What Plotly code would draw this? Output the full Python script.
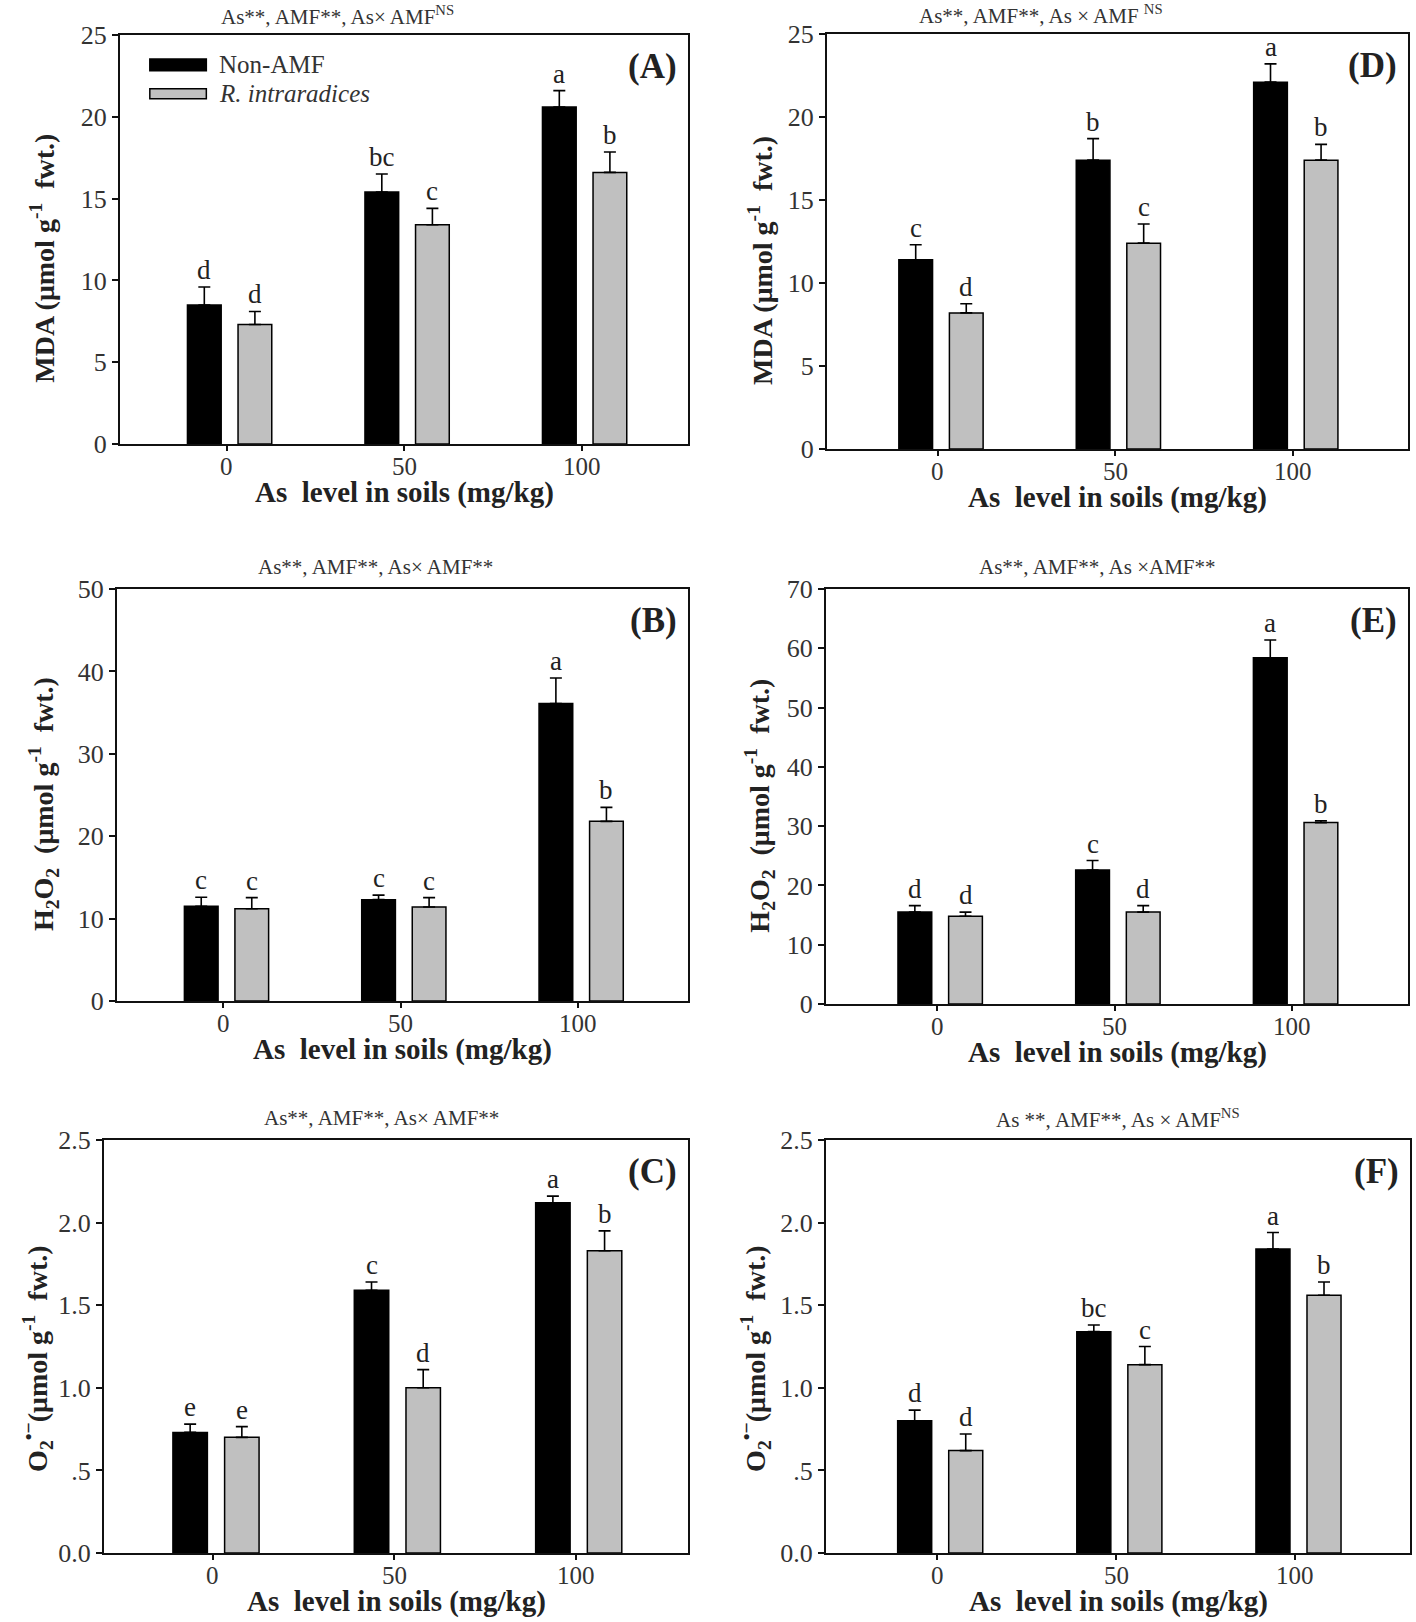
import plotly.graph_objects as go

# ---------------- data ----------------
levels = ["0", "50", "100"]
series_names = ["Non-AMF", "R. intraradices"]

# (A) MDA, experiment 1
mda_a_non = [8.5, 15.4, 20.6]
mda_a_non_err = [1.1, 1.1, 1.0]
mda_a_amf = [7.3, 13.4, 16.6]
mda_a_amf_err = [0.8, 1.0, 1.25]
let_a_non = ["d", "bc", "a"]
let_a_amf = ["d", "c", "b"]

# (D) MDA, experiment 2
mda_d_non = [11.4, 17.4, 22.1]
mda_d_non_err = [0.9, 1.3, 1.1]
mda_d_amf = [8.2, 12.4, 17.4]
mda_d_amf_err = [0.55, 1.15, 0.95]
let_d_non = ["c", "b", "a"]
let_d_amf = ["d", "c", "b"]

# (B) H2O2, experiment 1
h2o2_b_non = [11.5, 12.3, 36.1]
h2o2_b_non_err = [1.1, 0.55, 3.1]
h2o2_b_amf = [11.2, 11.4, 21.8]
h2o2_b_amf_err = [1.35, 1.15, 1.7]
let_b_non = ["c", "c", "a"]
let_b_amf = ["c", "c", "b"]

# (E) H2O2, experiment 2
h2o2_e_non = [15.5, 22.6, 58.4]
h2o2_e_non_err = [1.1, 1.6, 3.0]
h2o2_e_amf = [14.8, 15.5, 30.6]
h2o2_e_amf_err = [0.7, 1.1, 0.3]
let_e_non = ["d", "c", "a"]
let_e_amf = ["d", "d", "b"]

# (C) O2- , experiment 1
o2_c_non = [0.73, 1.59, 2.12]
o2_c_non_err = [0.05, 0.05, 0.04]
o2_c_amf = [0.70, 1.00, 1.83]
o2_c_amf_err = [0.065, 0.11, 0.12]
let_c_non = ["e", "c", "a"]
let_c_amf = ["e", "d", "b"]

# (F) O2- , experiment 2
o2_f_non = [0.80, 1.34, 1.84]
o2_f_non_err = [0.065, 0.04, 0.10]
o2_f_amf = [0.62, 1.14, 1.56]
o2_f_amf_err = [0.10, 0.11, 0.08]
let_f_non = ["d", "bc", "a"]
let_f_amf = ["d", "c", "b"]

titles = {
    "A": "As**, AMF**, As× AMF<sup>NS</sup>",
    "D": "As**, AMF**, As × AMF <sup>NS</sup>",
    "B": "As**, AMF**, As× AMF**",
    "E": "As**, AMF**, As ×AMF**",
    "C": "As**, AMF**, As× AMF**",
    "F": "As **, AMF**, As × AMF<sup>NS</sup>",
}
ytitle_mda = "<b>MDA (μmol g<sup>-1</sup>  fwt.)</b>"
ytitle_h2o2 = "<b>H<sub>2</sub>O<sub>2</sub>  (μmol g<sup>-1</sup>  fwt.)</b>"
ytitle_o2 = "<b>O<sub>2</sub><sup>•−</sup>(μmol g<sup>-1</sup>  fwt.)</b>"
xtitle = "<b>As  level in soils (mg/kg)</b>"

ticks_25 = [0, 5, 10, 15, 20, 25]
ticks_50 = [0, 10, 20, 30, 40, 50]
ticks_70 = [0, 10, 20, 30, 40, 50, 60, 70]
ticks_o2 = [0, 0.5, 1.0, 1.5, 2.0, 2.5]
ticks_o2_text = ["0.0", ".5", "1.0", "1.5", "2.0", "2.5"]

# ---------------- layout geometry (pixels) ----------------
W, H = 1416, 1622
SERIF = "Liberation Serif"

panels = [
    dict(k="A", l=120, r=688, t=35, b=444, ts=20, non=mda_a_non, ne=mda_a_non_err, amf=mda_a_amf, ae=mda_a_amf_err,
         ln=let_a_non, la=let_a_amf, yt=ticks_25, ytt=None, ytitle=ytitle_mda, tf=0.383, ydx=77, yf=0.453, xr=[-0.6, 2.6]),
    dict(k="D", l=827, r=1408, t=34, b=449, ts=20, non=mda_d_non, ne=mda_d_non_err, amf=mda_d_amf, ae=mda_d_amf_err,
         ln=let_d_non, la=let_d_amf, yt=ticks_25, ytt=None, ytitle=ytitle_mda, tf=0.368, ydx=67, yf=0.453, xr=[-0.625, 2.65]),
    dict(k="B", l=117, r=688, t=589, b=1001, ts=22, non=h2o2_b_non, ne=h2o2_b_non_err, amf=h2o2_b_amf, ae=h2o2_b_amf_err,
         ln=let_b_non, la=let_b_amf, yt=ticks_50, ytt=None, ytitle=ytitle_h2o2, tf=0.452, ydx=74, yf=0.478, xr=[-0.6, 2.62]),
    dict(k="E", l=826, r=1408, t=589, b=1004, ts=22, non=h2o2_e_non, ne=h2o2_e_non_err, amf=h2o2_e_amf, ae=h2o2_e_amf_err,
         ln=let_e_non, la=let_e_amf, yt=ticks_70, ytt=None, ytitle=ytitle_h2o2, tf=0.467, ydx=66, yf=0.478, xr=[-0.625, 2.65]),
    dict(k="C", l=104, r=688, t=1140, b=1553, ts=22, non=o2_c_non, ne=o2_c_non_err, amf=o2_c_amf, ae=o2_c_amf_err,
         ln=let_c_non, la=let_c_amf, yt=ticks_o2, ytt=ticks_o2_text, ytitle=ytitle_o2, tf=0.476, ydx=66, yf=0.47, xr=[-0.6, 2.62]),
    dict(k="F", l=826, r=1410, t=1140, b=1553, ts=22, non=o2_f_non, ne=o2_f_non_err, amf=o2_f_amf, ae=o2_f_amf_err,
         ln=let_f_non, la=let_f_amf, yt=ticks_o2, ytt=ticks_o2_text, ytitle=ytitle_o2, tf=0.5, ydx=70, yf=0.47, xr=[-0.62, 2.64]),
]

BAR_W = 0.19
OFF_NON = -0.22
OFF_AMF = 0.065
xpos = list(range(len(levels)))

fig = go.Figure()
annotations = []
shapes = []
layout_axes = {}

for i, p in enumerate(panels):
    n = "" if i == 0 else str(i + 1)
    xa, ya = "x" + n, "y" + n
    xd, yd = xa + " domain", ya + " domain"
    for vals, errs, off, color, name in [
        (p["non"], p["ne"], OFF_NON, "#000000", series_names[0]),
        (p["amf"], p["ae"], OFF_AMF, "#c0c0c0", series_names[1]),
    ]:
        fig.add_trace(go.Bar(
            x=xpos, y=vals, width=BAR_W, offset=off, name=name,
            marker=dict(color=color, line=dict(color="#000000", width=1.5)),
            error_y=dict(type="data", symmetric=False, array=errs, arrayminus=[0] * len(errs),
                         color="#000000", thickness=1.6, width=6),
            xaxis=xa, yaxis=ya, showlegend=False,
        ))
    for vals, errs, off, lets in [(p["non"], p["ne"], OFF_NON, p["ln"]), (p["amf"], p["ae"], OFF_AMF, p["la"])]:
        for j in range(len(vals)):
            annotations.append(dict(
                x=xpos[j] + off + BAR_W / 2, y=vals[j] + errs[j], xref=xa, yref=ya,
                text=lets[j], showarrow=False, yanchor="bottom", yshift=0,
                font=dict(family=SERIF, size=27, color="#222222"),
            ))
    # x tick labels (placed close to the axis as in the original)
    for j, lab in enumerate(levels):
        annotations.append(dict(x=xpos[j], y=0, xref=xa, yref=yd, yanchor="middle", yshift=-22,
                                text=lab, showarrow=False,
                                font=dict(family=SERIF, size=25, color="#333333")))
    dom_x = [p["l"] / W, p["r"] / W]
    dom_y = [1 - p["b"] / H, 1 - p["t"] / H]
    layout_axes["xaxis" + n] = dict(
        domain=dom_x, range=p["xr"], anchor=ya, tickmode="array", tickvals=xpos, ticktext=levels,
        showticklabels=False,
        showline=True, linecolor="#111111", linewidth=2, mirror=True,
        ticks="outside", ticklen=5, tickwidth=1.5, tickcolor="#111111",
        showgrid=False, zeroline=False, fixedrange=True, automargin=False,
    )
    yax = dict(
        domain=dom_y, range=[p["yt"][0], p["yt"][-1]], anchor=xa, tickmode="array", tickvals=p["yt"],
        showline=True, linecolor="#111111", linewidth=2, mirror=True,
        ticks="outside", ticklen=6, tickwidth=1.5, tickcolor="#111111",
        showgrid=False, zeroline=False, fixedrange=True, automargin=False,
        tickfont=dict(family=SERIF, size=26, color="#333333"),
    )
    if p["ytt"] is not None:
        yax["ticktext"] = p["ytt"]
    layout_axes["yaxis" + n] = yax
    annotations.append(dict(x=p["tf"], y=1, xref=xd, yref=yd, yanchor="middle", yshift=p["ts"],
                            text=titles[p["k"]], showarrow=False,
                            font=dict(family=SERIF, size=21, color="#333333")))
    annotations.append(dict(x=1, y=1, xref=xd, yref=yd, xanchor="right", yanchor="top",
                            xshift=-9, yshift=-10, text="<b>(" + p["k"] + ")</b>", showarrow=False,
                            font=dict(family=SERIF, size=35, color="#222222")))
    annotations.append(dict(x=0.5, y=0, xref=xd, yref=yd, yanchor="middle", yshift=-48,
                            text=xtitle, showarrow=False,
                            font=dict(family=SERIF, size=29, color="#222222")))
    annotations.append(dict(x=0, y=p["yf"], xref=xd, yref=yd, xanchor="center", yanchor="middle",
                            xshift=-p["ydx"], textangle=-90, text=p["ytitle"], showarrow=False,
                            font=dict(family=SERIF, size=28, color="#222222")))

# legend inside panel A (drawn manually)
leg_items = [("#000000", 0.9416, 0.9124, "Non-AMF"),
             ("#c0c0c0", 0.8686, 0.8443, "<i>R. intraradices</i>")]
for color, y1, y0, label in leg_items:
    shapes.append(dict(type="rect", xref="x domain", yref="y domain", x0=0.0525, x1=0.152, y0=y0, y1=y1,
                       fillcolor=color, line=dict(color="#000000", width=1.5)))
    annotations.append(dict(x=0.170, y=(y0 + y1) / 2, xref="x domain", yref="y domain",
                            xanchor="left", yanchor="middle", text=label, showarrow=False,
                            font=dict(family=SERIF, size=25, color="#333333")))

fig.update_layout(
    width=W, height=H, margin=dict(l=0, r=0, t=0, b=0, autoexpand=False),
    paper_bgcolor="white", plot_bgcolor="white",
    barmode="overlay", annotations=annotations, shapes=shapes,
    font=dict(family=SERIF, color="#222222"),
    **layout_axes,
)

# remove the browser's default 8px page margin so the figure sits at the top-left corner
fig.write_html("out.html", config={"displayModeBar": False},
               post_script="document.body.style.margin='0px';document.body.style.overflow='hidden';")
